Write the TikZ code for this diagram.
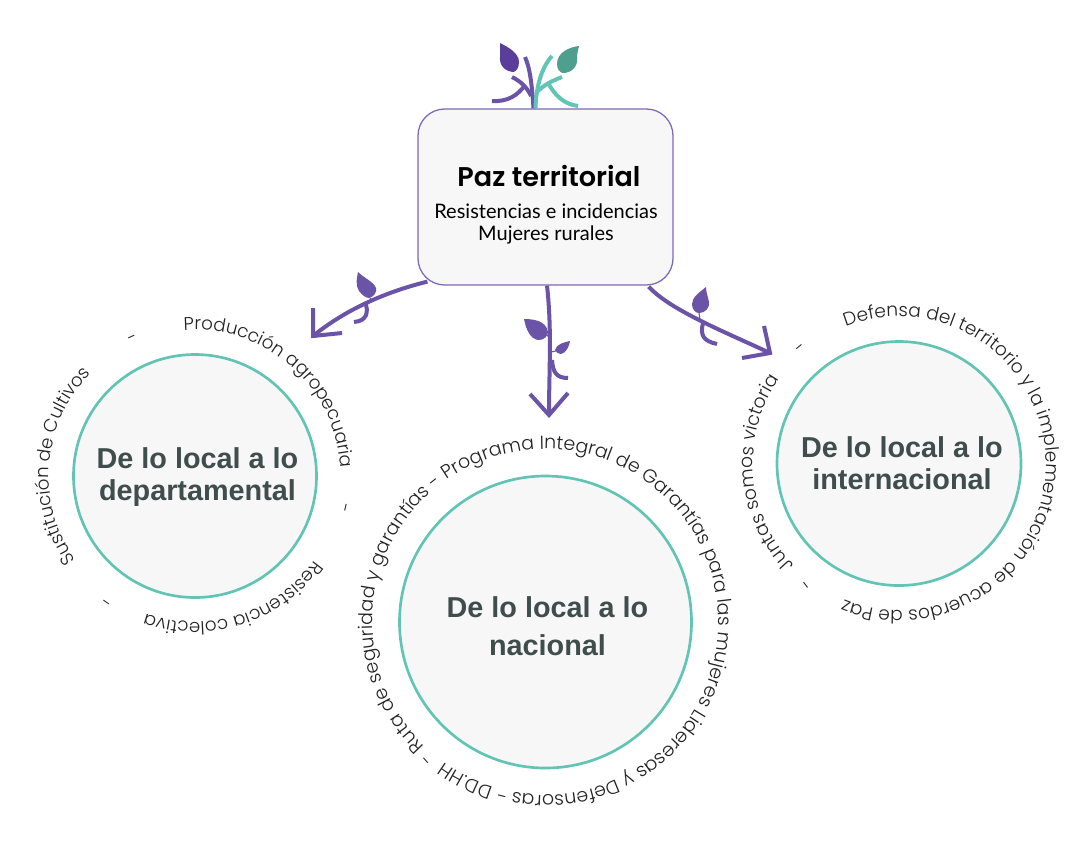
\documentclass[tikz,border=0pt]{standalone}
\usepackage{fontspec}
\usetikzlibrary{calc,decorations.text}
\newfontfamily\circfont{Poppins Light}
\newfontfamily\titlefont{Poppins SemiBold}
\newfontfamily\bodyfont{Lato}
\newfontfamily\headfont{Liberation Sans}
\definecolor{purp}{HTML}{6B54A8}
\definecolor{purpline}{HTML}{7F68B5}
\definecolor{purpdark}{HTML}{5A3E99}
\definecolor{tealline}{HTML}{62C4B5}
\definecolor{tealdark}{HTML}{4F9F8F}
\definecolor{paper}{HTML}{F7F7F7}
\definecolor{headink}{HTML}{3F4D4B}
\definecolor{arcink}{HTML}{222222}
\tikzset{
  hubbox/.style={draw=purpline,line width=0.95pt,fill=paper,rounded corners=20pt,minimum width=191.25pt,minimum height=132pt,inner sep=0pt},
  bubble/.style={circle,draw=tealline,line width=2pt,fill=paper,inner sep=0pt},
  headtext/.style={font=\headfont\bfseries\fontsize{21.6}{24}\selectfont,text=headink,align=center,inner sep=0pt},
  conn/.style={draw=purp,line width=3pt},
  barb/.style={draw=purp,line width=3pt,line join=miter},
  twig/.style={draw=#1,line width=3pt},
  thin stem/.style={draw=purp,line width=0.8pt},
  dashmark/.style={font=\circfont\fontsize{13}{13}\selectfont,text=arcink,inner sep=0pt},
}
% #1 centre, #2 radius, #3 start angle, #4 end angle, #5 font size, #6 text
\newcommand{\arctext}[6]{\path[decorate,decoration={text along path,text align={center},text={|\circfont\fontsize{#5}{16}\selectfont\color{arcink}|#6}}] ($(#1)+(#3:#2)$) arc[start angle=#3,end angle=#4,radius=#2];}
\begin{document}
\begin{tikzpicture}[x=0.75pt,y=0.75pt]
\useasboundingbox (0,0) rectangle (1087,-840);
\fill[white] (0,0) rectangle (1087,-840);

% hub
\node[hubbox] (box) at (545.5,-197) {};
\node[font=\titlefont\fontsize{20.3}{24}\selectfont,text=black,inner sep=0pt] (title) at (549,-176) {Paz territorial};
\node[font=\bodyfont\fontsize{15}{16.6}\selectfont,text=black,align=center,inner sep=0pt] (sub) at (546,-224) {Resistencias e incidencias\\Mujeres rurales};

% circles
\node[bubble,minimum size=182.25pt] (cL) at (195,-476) {};
\node[bubble,minimum size=219pt] (cM) at (545.5,-622) {};
\node[bubble,minimum size=183pt] (cR) at (899,-463.5) {};
\node[headtext] (tL) at (197.5,-477) {De lo local a lo\\departamental};
\node[headtext,font=\headfont\bfseries\fontsize{21.6}{28.5}\selectfont] (tM) at (547.5,-626) {De lo local a lo\\nacional};
\node[headtext] (tR) at (902,-463.5) {De lo local a lo\\internacional};

% free ends
\coordinate (tipL) at (313,-336);
\coordinate (barbL1) at (313,-308);
\coordinate (barbL2) at (342,-333);
\coordinate (tipM) at (549,-415);
\coordinate (barbM1) at (530,-394);
\coordinate (barbM2) at (568,-393);
\coordinate (tipR) at (770,-353);
\coordinate (barbR1) at (764,-326);
\coordinate (barbR2) at (742,-358);

% connectors
\draw[conn] ($(box.south west)+(10,4)$) .. controls (385,-292) and (345,-310) .. (tipL);
\draw[barb] (barbL1) -- (tipL) -- (barbL2);
\draw[conn] ($(box.south)+(1.5,0)$) .. controls (552,-330) and (549,-370) .. (tipM);
\draw[barb] (barbM1) -- (tipM) -- (barbM2);
\draw[conn] ($(box.south east)+(-25,-1)$) .. controls (670,-310) and (725,-332) .. (tipR);
\draw[barb] (barbR1) -- (tipR) -- (barbR2);

% twigs on connectors
\draw[twig=purp] (365,-302) .. controls (369,-312) and (367,-321) .. (354,-322);
\draw[twig=purp] (552,-360) .. controls (553,-372) and (556,-378) .. (568,-378);
\draw[twig=purp] (703,-323) .. controls (700,-335) and (703,-341) .. (717,-344);

% leaves on connectors
\fill[purp] (358,-272) .. controls (357,-278) and (355,-285) .. (359,-291) .. controls (362,-295) and (366,-298) .. (369,-298) .. controls (374,-297) and (377,-292) .. (376,-288) .. controls (374,-282) and (364,-278) .. (358,-272) -- cycle;
\draw[thin stem] (370,-298) -- (373,-301);
\fill[purp] (524,-319) .. controls (532,-319) and (546,-320) .. (548,-332) .. controls (548,-336) and (544,-340) .. (539,-340) .. controls (531,-340) and (526,-330) .. (524,-319) -- cycle;
\draw[thin stem] (547,-335) -- (550,-338);
\fill[purp] (570,-341) .. controls (565,-342) and (556,-344) .. (555,-350) .. controls (556,-353) and (559,-354) .. (561,-354) .. controls (566,-353) and (569,-347) .. (570,-341) -- cycle;
\draw[thin stem] (551,-352) -- (556,-351);
\fill[purp] (706,-287) .. controls (700,-292) and (692,-297) .. (692,-304) .. controls (692,-309) and (695,-313) .. (699,-313) .. controls (705,-313) and (710,-308) .. (709,-302) .. controls (708,-297) and (706,-292) .. (706,-287) -- cycle;
\draw[thin stem] (699,-313) -- (700,-320);

% plant on the hub
\draw[conn] ($(box.north)+(-12,0)$) .. controls (532,-85) and (530,-68) .. (525,-57);
\draw[conn] (512,-77) .. controls (520,-81) and (527,-87) .. (531,-96);
\draw[conn] (492,-101) .. controls (508,-102) and (518,-95) .. (525,-85);
\draw[draw=tealline,line width=3pt] ($(box.north)+(-10,0)$) .. controls (536,-88) and (541,-68) .. (552,-56);
\draw[draw=tealline,line width=3pt] (537,-92) .. controls (545,-84) and (552,-81) .. (562,-77);
\draw[draw=tealline,line width=3pt] (548,-83) .. controls (555,-95) and (563,-104) .. (578,-106);
\fill[purpdark] (500,-43) .. controls (508,-47) and (519,-53) .. (519,-62) .. controls (519,-68) and (516,-72) .. (513,-72) .. controls (505,-71) and (499,-66) .. (500,-56) .. controls (500,-52) and (500,-47) .. (500,-43) -- cycle;
\fill[tealdark] (579,-46) .. controls (570,-47) and (557,-52) .. (557,-64) .. controls (557,-69) and (560,-73) .. (563,-73) .. controls (572,-73) and (578,-66) .. (577,-58) .. controls (577,-54) and (578,-50) .. (579,-46) -- cycle;

% arc texts, left circle
\arctext{cL}{146}{113.5}{-16}{13.7}{Producción agropecuaria}
\arctext{cL}{146}{-15}{-130}{13.7}{Resistencia colectiva}
\arctext{cL}{146}{-124}{-245.4}{13.7}{Sustitución de Cultivos}
\node[dashmark,rotate=-102.5] (dL1) at (342.5,-508) {-};
\node[dashmark,rotate=-215] (dL2) at (108,-600) {-};
\node[dashmark,rotate=24] (dL3) at (133,-339) {-};

% arc text, middle circle
\arctext{cM}{173}{229}{-129.3}{14.2}{Ruta de seguridad y garantías - Programa Integral de Garantías  para las mujeres Lideresas y Defensoras - DD.HH}
\node[dashmark,rotate=-229] (dM1) at (428,-758) {-};

% arc texts, right circle
\arctext{cR}{147}{120}{-120.7}{13.9}{Defensa del territorio y la implementación de acuerdos de Paz}
\arctext{cR}{146}{243.4}{125.4}{14}{Juntas somos victoria}
\node[dashmark,rotate=-232.7] (dR1) at (808,-583) {-};
\node[dashmark,rotate=40] (dR2) at (802,-349) {-};
\end{tikzpicture}
\end{document}
